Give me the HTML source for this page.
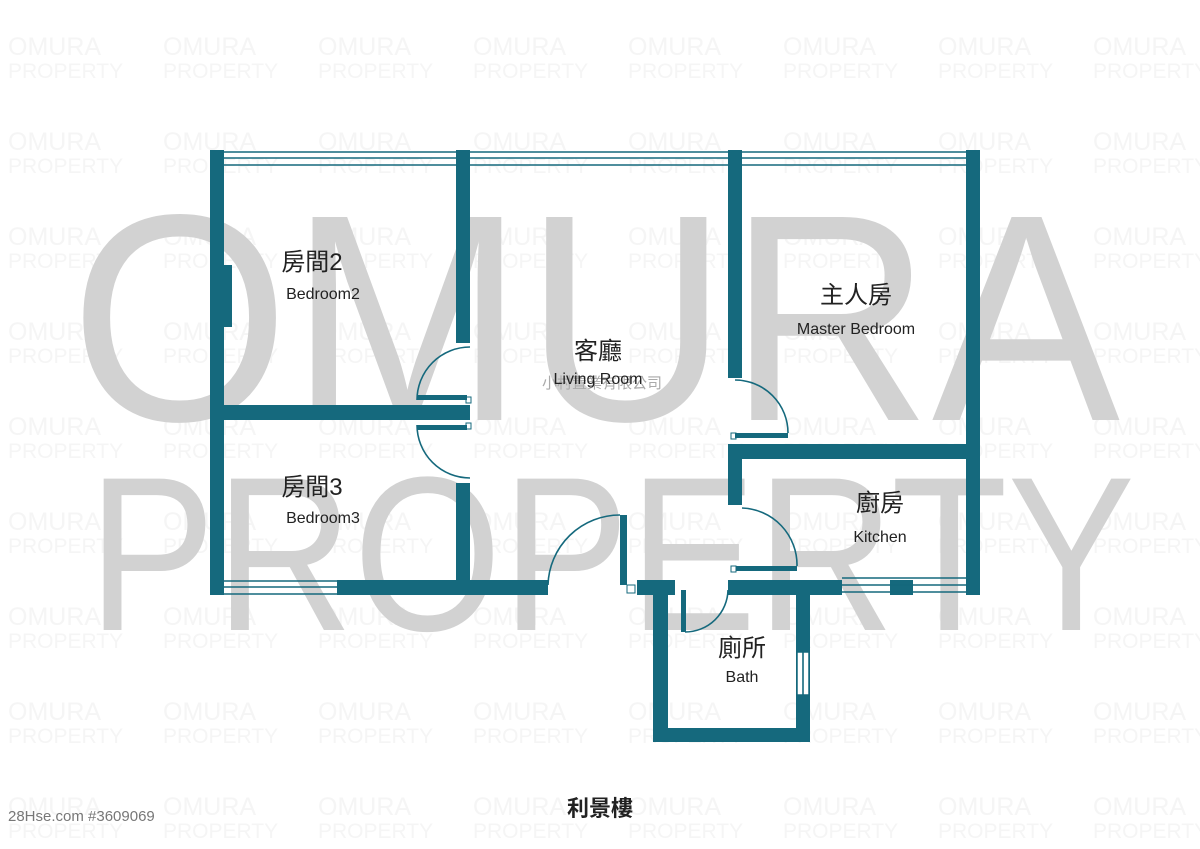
<!DOCTYPE html>
<html><head><meta charset="utf-8"><style>
html,body{margin:0;padding:0;background:#fff;}
svg{display:block;}
</style></head><body>
<svg width="1200" height="849" viewBox="0 0 1200 849" xmlns="http://www.w3.org/2000/svg" font-family="'Liberation Sans','Noto Sans CJK TC',sans-serif">
<g fill="#f5f5f5" font-size="25">
<text x="8" y="55">OMURA</text><text x="163" y="55">OMURA</text><text x="318" y="55">OMURA</text><text x="473" y="55">OMURA</text><text x="628" y="55">OMURA</text><text x="783" y="55">OMURA</text><text x="938" y="55">OMURA</text><text x="1093" y="55">OMURA</text>
<text x="8" y="150">OMURA</text><text x="163" y="150">OMURA</text><text x="318" y="150">OMURA</text><text x="473" y="150">OMURA</text><text x="628" y="150">OMURA</text><text x="783" y="150">OMURA</text><text x="938" y="150">OMURA</text><text x="1093" y="150">OMURA</text>
<text x="8" y="245">OMURA</text><text x="163" y="245">OMURA</text><text x="318" y="245">OMURA</text><text x="473" y="245">OMURA</text><text x="628" y="245">OMURA</text><text x="783" y="245">OMURA</text><text x="938" y="245">OMURA</text><text x="1093" y="245">OMURA</text>
<text x="8" y="340">OMURA</text><text x="163" y="340">OMURA</text><text x="318" y="340">OMURA</text><text x="473" y="340">OMURA</text><text x="628" y="340">OMURA</text><text x="783" y="340">OMURA</text><text x="938" y="340">OMURA</text><text x="1093" y="340">OMURA</text>
<text x="8" y="435">OMURA</text><text x="163" y="435">OMURA</text><text x="318" y="435">OMURA</text><text x="473" y="435">OMURA</text><text x="628" y="435">OMURA</text><text x="783" y="435">OMURA</text><text x="938" y="435">OMURA</text><text x="1093" y="435">OMURA</text>
<text x="8" y="530">OMURA</text><text x="163" y="530">OMURA</text><text x="318" y="530">OMURA</text><text x="473" y="530">OMURA</text><text x="628" y="530">OMURA</text><text x="783" y="530">OMURA</text><text x="938" y="530">OMURA</text><text x="1093" y="530">OMURA</text>
<text x="8" y="625">OMURA</text><text x="163" y="625">OMURA</text><text x="318" y="625">OMURA</text><text x="473" y="625">OMURA</text><text x="628" y="625">OMURA</text><text x="783" y="625">OMURA</text><text x="938" y="625">OMURA</text><text x="1093" y="625">OMURA</text>
<text x="8" y="720">OMURA</text><text x="163" y="720">OMURA</text><text x="318" y="720">OMURA</text><text x="473" y="720">OMURA</text><text x="628" y="720">OMURA</text><text x="783" y="720">OMURA</text><text x="938" y="720">OMURA</text><text x="1093" y="720">OMURA</text>
<text x="8" y="815">OMURA</text><text x="163" y="815">OMURA</text><text x="318" y="815">OMURA</text><text x="473" y="815">OMURA</text><text x="628" y="815">OMURA</text><text x="783" y="815">OMURA</text><text x="938" y="815">OMURA</text><text x="1093" y="815">OMURA</text>
</g>
<g fill="#f5f5f5" font-size="21">
<text x="8" y="78">PROPERTY</text><text x="163" y="78">PROPERTY</text><text x="318" y="78">PROPERTY</text><text x="473" y="78">PROPERTY</text><text x="628" y="78">PROPERTY</text><text x="783" y="78">PROPERTY</text><text x="938" y="78">PROPERTY</text><text x="1093" y="78">PROPERTY</text>
<text x="8" y="173">PROPERTY</text><text x="163" y="173">PROPERTY</text><text x="318" y="173">PROPERTY</text><text x="473" y="173">PROPERTY</text><text x="628" y="173">PROPERTY</text><text x="783" y="173">PROPERTY</text><text x="938" y="173">PROPERTY</text><text x="1093" y="173">PROPERTY</text>
<text x="8" y="268">PROPERTY</text><text x="163" y="268">PROPERTY</text><text x="318" y="268">PROPERTY</text><text x="473" y="268">PROPERTY</text><text x="628" y="268">PROPERTY</text><text x="783" y="268">PROPERTY</text><text x="938" y="268">PROPERTY</text><text x="1093" y="268">PROPERTY</text>
<text x="8" y="363">PROPERTY</text><text x="163" y="363">PROPERTY</text><text x="318" y="363">PROPERTY</text><text x="473" y="363">PROPERTY</text><text x="628" y="363">PROPERTY</text><text x="783" y="363">PROPERTY</text><text x="938" y="363">PROPERTY</text><text x="1093" y="363">PROPERTY</text>
<text x="8" y="458">PROPERTY</text><text x="163" y="458">PROPERTY</text><text x="318" y="458">PROPERTY</text><text x="473" y="458">PROPERTY</text><text x="628" y="458">PROPERTY</text><text x="783" y="458">PROPERTY</text><text x="938" y="458">PROPERTY</text><text x="1093" y="458">PROPERTY</text>
<text x="8" y="553">PROPERTY</text><text x="163" y="553">PROPERTY</text><text x="318" y="553">PROPERTY</text><text x="473" y="553">PROPERTY</text><text x="628" y="553">PROPERTY</text><text x="783" y="553">PROPERTY</text><text x="938" y="553">PROPERTY</text><text x="1093" y="553">PROPERTY</text>
<text x="8" y="648">PROPERTY</text><text x="163" y="648">PROPERTY</text><text x="318" y="648">PROPERTY</text><text x="473" y="648">PROPERTY</text><text x="628" y="648">PROPERTY</text><text x="783" y="648">PROPERTY</text><text x="938" y="648">PROPERTY</text><text x="1093" y="648">PROPERTY</text>
<text x="8" y="743">PROPERTY</text><text x="163" y="743">PROPERTY</text><text x="318" y="743">PROPERTY</text><text x="473" y="743">PROPERTY</text><text x="628" y="743">PROPERTY</text><text x="783" y="743">PROPERTY</text><text x="938" y="743">PROPERTY</text><text x="1093" y="743">PROPERTY</text>
<text x="8" y="838">PROPERTY</text><text x="163" y="838">PROPERTY</text><text x="318" y="838">PROPERTY</text><text x="473" y="838">PROPERTY</text><text x="628" y="838">PROPERTY</text><text x="783" y="838">PROPERTY</text><text x="938" y="838">PROPERTY</text><text x="1093" y="838">PROPERTY</text>
</g>
<!-- big watermark -->
<text x="70" y="420" font-size="295" fill="#d2d2d2" textLength="1050" lengthAdjust="spacingAndGlyphs">OMURA</text>
<text x="88" y="630" font-size="220" fill="#d2d2d2" textLength="1047" lengthAdjust="spacingAndGlyphs">PROPERTY</text>

<g fill="#15697d">
<rect x="210" y="150" width="14" height="445"/>
<rect x="224" y="265" width="8" height="62"/>
<rect x="966" y="150" width="14" height="445"/>
<rect x="456" y="150" width="14" height="193"/>
<rect x="224" y="405" width="246" height="15"/>
<rect x="417" y="395" width="50" height="5"/>
<rect x="417" y="425" width="50" height="5"/>
<rect x="456" y="483" width="14" height="112"/>
<rect x="728" y="150" width="14" height="228"/>
<rect x="735" y="433" width="53" height="5"/>
<rect x="728" y="444" width="252" height="15"/>
<rect x="728" y="459" width="14" height="46"/>
<rect x="736" y="566" width="61" height="5"/>
<rect x="337" y="580" width="211" height="15"/>
<rect x="620" y="515" width="7" height="70"/>
<rect x="637" y="580" width="38" height="15"/>
<rect x="653" y="580" width="15" height="162"/>
<rect x="681" y="590" width="5" height="42"/>
<rect x="728" y="580" width="114" height="15"/>
<rect x="890" y="580" width="23" height="15"/>
<rect x="796" y="595" width="14" height="147"/>
<rect x="653" y="728" width="157" height="14"/>
</g>
<g fill="#fff" stroke="#15697d" stroke-width="1.5">
<rect x="797" y="652" width="12" height="43"/>
</g>
<g stroke="#15697d" stroke-width="1.6" fill="none">
<path d="M224 152H456M224 158H456M224 165H456M470 152H728M470 158H728M470 165H728M742 152H966M742 158H966M742 165H966"/>
<path d="M224 581H337M224 587H337M224 594H337"/>
<path d="M842 578H966M842 585H966M842 592H966"/>
<path d="M803 652V695"/>
<path d="M470 347A53 53 0 0 0 417 400"/>
<path d="M417 425A53 53 0 0 0 470 478"/>
<path d="M735 380A53 53 0 0 1 788 433"/>
<path d="M742 508A57 57 0 0 1 797 566"/>
<path d="M548 585A72 72 0 0 1 620 515"/>
<path d="M685 632A43 43 0 0 0 728 590"/>
<rect x="466" y="397" width="5" height="6" stroke-width="1"/>
<rect x="466" y="423" width="5" height="6" stroke-width="1"/>
<rect x="627" y="585" width="8" height="8" stroke-width="1"/>
<rect x="731" y="433" width="5" height="6" stroke-width="1"/>
<rect x="731" y="566" width="5" height="6" stroke-width="1"/>
</g>

<text x="602" y="388" text-anchor="middle" font-size="15" fill="#aaa">小村置業有限公司</text>
<g fill="#222" text-anchor="middle">
<text x="312" y="270" font-size="24">房間2</text>
<text x="323" y="299" font-size="16">Bedroom2</text>
<text x="598" y="359" font-size="24">客廳</text>
<text x="598" y="384" font-size="16">Living Room</text>
<text x="856" y="303" font-size="24">主人房</text>
<text x="856" y="334" font-size="16">Master Bedroom</text>
<text x="312" y="495" font-size="24">房間3</text>
<text x="323" y="523" font-size="16">Bedroom3</text>
<text x="880" y="511" font-size="24">廚房</text>
<text x="880" y="542" font-size="16">Kitchen</text>
<text x="742" y="656" font-size="24">廁所</text>
<text x="742" y="682" font-size="16">Bath</text>
<text x="600" y="816" font-size="22" font-weight="bold">利景樓</text>
</g>
<text x="8" y="821" font-size="15" fill="#777">28Hse.com #3609069</text>
</svg>
</body></html>
